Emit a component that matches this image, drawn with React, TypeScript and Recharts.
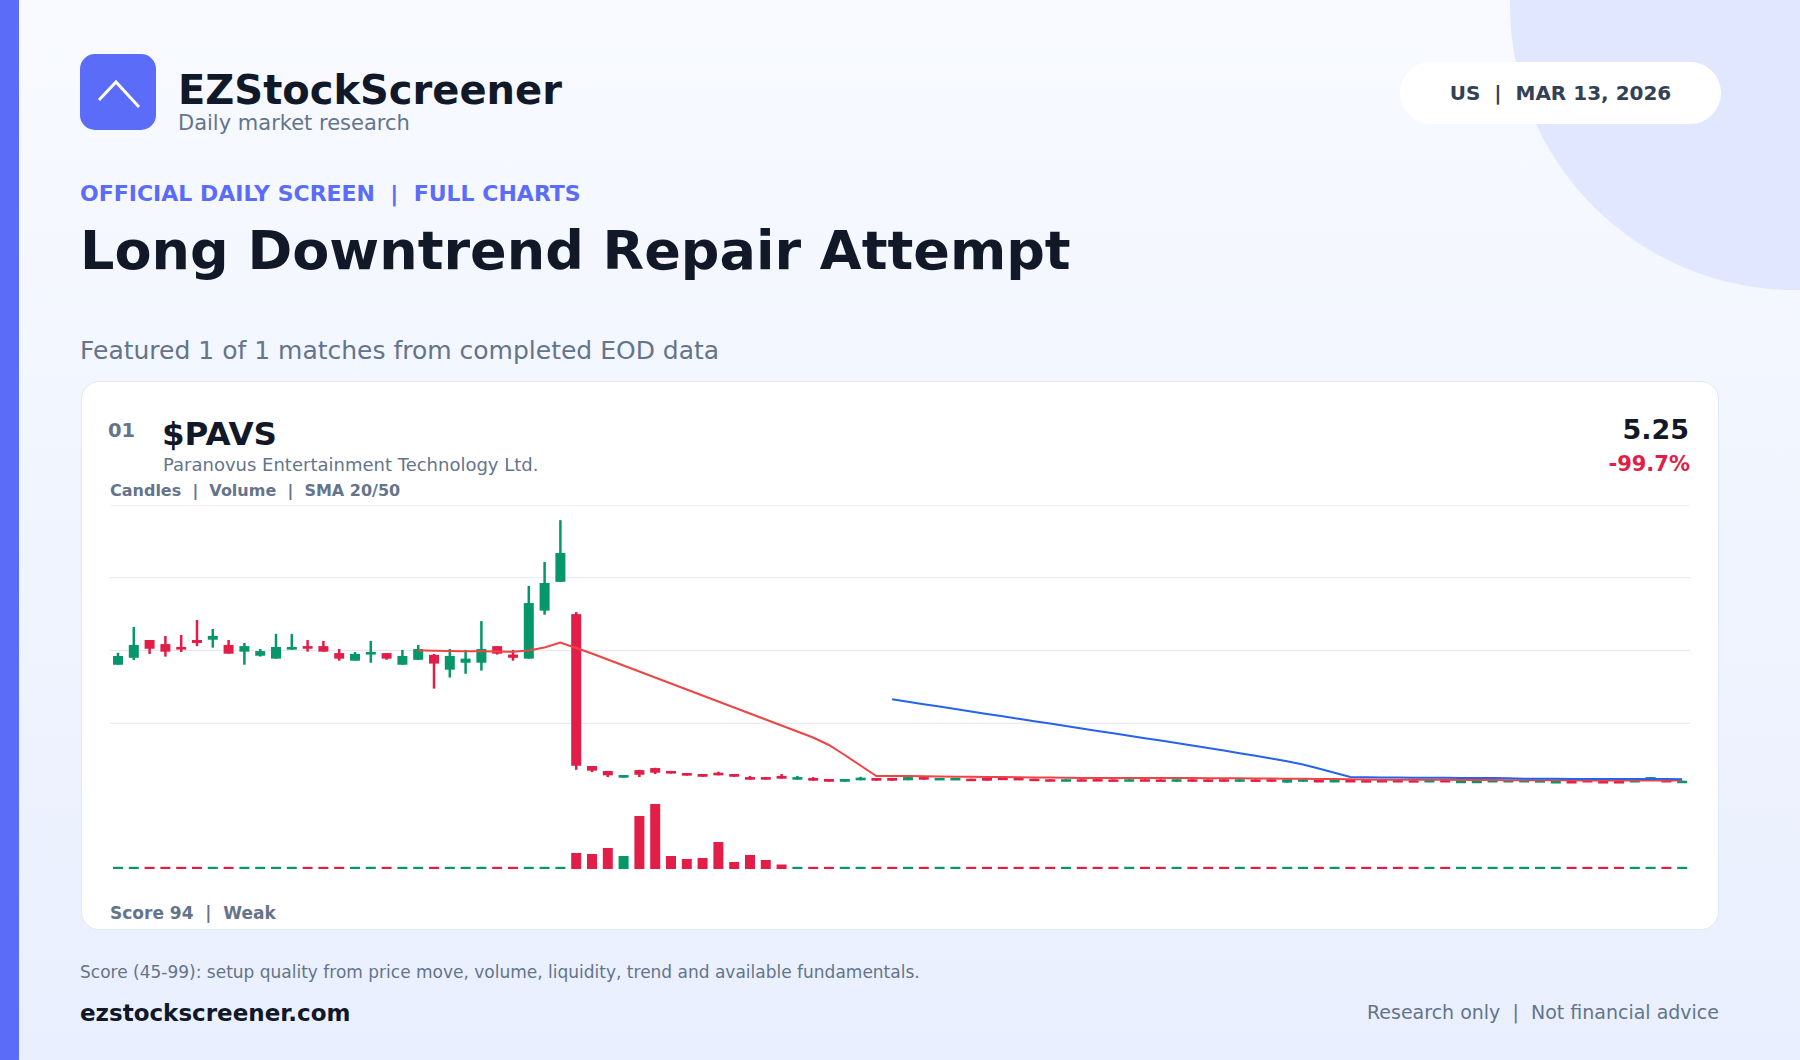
import React from "react";
import {
  ComposedChart,
  BarChart,
  Bar,
  Line,
  XAxis,
  YAxis,
  CartesianGrid,
  Cell,
} from "recharts";

const GREEN = "#059669";
const RED = "#e11d48";
const GREY = "#64748b";
const INK = "#111827";
const ACCENT = "#5b6cf9";

// daily candles, oldest first
const opens = [
  45.1, 47.5, 53.6, 52.2, 51.2, 53.6, 53.7, 51.9, 49.6, 48.2,
  47.2, 50.3, 51.5, 51.5, 49.1, 46.5, 48.6, 49.1, 45.1, 46.8,
  48.5, 43.4, 45.8, 45.8, 51.5, 48.6, 47.2, 63.7, 73.6, 62.5,
  10.3, 8.6, 6.3, 8.9, 9.6, 8.6, 7.9, 7.55, 8.0, 7.55,
  6.5, 6.5, 6.9, 5.6, 6.2, 5.85, 4.9, 5.4, 6.2, 6.2,
  5.4, 6.5, 5.6, 5.5, 5.95, 6.2, 6.3, 6.2, 5.95, 5.75,
  5.25, 5.75, 5.8, 5.7, 5.2, 5.75, 5.7, 4.9, 5.75, 5.7,
  5.75, 4.9, 5.7, 5.75, 4.6, 4.9, 5.5, 4.8, 5.5, 5.45,
  5.5, 5.5, 5.45, 4.8, 5.5, 4.5, 4.5, 4.8, 4.8, 4.85,
  4.8, 4.5, 5.15, 5.5, 5.15, 5.15, 4.8, 5.95, 5.5, 4.7,
];
const highs = [
  49.2, 58.1, 53.6, 55.0, 55.3, 60.5, 57.4, 53.6, 52.6, 50.5,
  55.7, 55.7, 53.6, 53.3, 50.5, 49.5, 53.3, 49.1, 50.2, 51.9,
  48.8, 50.5, 50.2, 60.1, 51.5, 50.2, 72.2, 80.4, 94.8, 63.2,
  10.3, 8.6, 7.2, 9.0, 9.7, 8.6, 7.9, 7.55, 8.35, 7.55,
  6.9, 6.5, 7.55, 6.9, 6.5, 5.85, 5.85, 6.6, 6.2, 6.2,
  6.5, 6.5, 6.2, 6.2, 5.95, 6.2, 6.3, 6.2, 5.95, 5.75,
  5.75, 5.75, 5.8, 5.7, 5.75, 5.75, 5.7, 5.75, 5.75, 5.7,
  5.75, 5.75, 5.7, 5.75, 5.75, 5.75, 5.5, 5.5, 5.5, 5.45,
  5.5, 5.5, 5.45, 5.5, 5.5, 5.25, 5.25, 5.5, 5.5, 5.5,
  5.45, 5.15, 5.15, 5.5, 5.15, 5.15, 5.5, 6.5, 5.5, 5.25,
];
const lows = [
  45.1, 46.7, 48.8, 47.9, 49.5, 51.5, 51.0, 48.9, 45.1, 47.9,
  47.2, 50.3, 49.6, 49.6, 46.5, 46.5, 45.8, 46.8, 45.1, 46.8,
  36.9, 40.7, 42.0, 43.1, 48.6, 46.5, 47.2, 62.3, 73.6, 9.0,
  8.2, 6.5, 6.3, 6.5, 7.55, 7.7, 7.0, 6.6, 7.1, 6.6,
  5.6, 5.6, 5.95, 5.6, 5.25, 4.9, 4.9, 5.4, 5.25, 5.25,
  5.4, 5.6, 5.6, 5.5, 5.5, 5.25, 5.9, 5.6, 5.25, 5.25,
  5.25, 5.25, 5.3, 5.25, 5.2, 5.25, 5.2, 4.9, 4.9, 4.9,
  4.95, 4.9, 4.9, 4.9, 4.6, 4.9, 4.8, 4.8, 4.8, 4.8,
  4.85, 4.8, 4.8, 4.8, 4.8, 4.5, 4.5, 4.8, 4.8, 4.85,
  4.8, 4.5, 4.5, 4.8, 4.5, 4.5, 4.8, 5.95, 4.8, 4.7,
];
const closes = [
  48.1, 51.9, 50.6, 49.6, 50.3, 52.6, 55.0, 48.9, 51.5, 49.8,
  51.2, 51.2, 50.6, 49.6, 47.2, 48.8, 49.5, 47.2, 48.1, 50.5,
  45.5, 48.1, 47.2, 50.5, 48.9, 47.5, 66.3, 73.2, 83.5, 10.4,
  8.7, 7.1, 7.2, 7.3, 8.0, 7.7, 7.0, 6.6, 7.1, 6.6,
  5.6, 5.6, 5.95, 6.5, 5.25, 4.9, 5.85, 6.3, 5.25, 5.25,
  6.5, 5.6, 6.2, 6.2, 5.5, 5.25, 5.9, 5.6, 5.25, 5.25,
  5.75, 5.25, 5.3, 5.25, 5.75, 5.25, 5.2, 5.75, 4.9, 4.9,
  4.95, 5.75, 4.9, 4.9, 5.75, 5.75, 4.8, 5.5, 4.8, 4.8,
  4.85, 4.8, 4.8, 5.5, 4.8, 5.25, 5.25, 5.5, 5.5, 5.5,
  5.45, 5.15, 4.5, 4.8, 4.5, 4.5, 5.5, 6.5, 4.8, 5.25,
];
// volume, millions
const volumes = [
  0.22, 0.22, 0.22, 0.22, 0.22, 0.22, 0.22, 0.22, 0.22, 0.22,
  0.22, 0.22, 0.22, 0.22, 0.22, 0.22, 0.22, 0.22, 0.22, 0.22,
  0.22, 0.22, 0.22, 0.22, 0.22, 0.22, 0.22, 0.22, 0.22, 1.6,
  1.5, 2.1, 1.3, 5.3, 6.5, 1.3, 1.0, 1.1, 2.7, 0.7,
  1.4, 0.9, 0.45, 0.22, 0.22, 0.22, 0.22, 0.22, 0.22, 0.22,
  0.22, 0.22, 0.22, 0.22, 0.22, 0.22, 0.22, 0.22, 0.22, 0.22,
  0.22, 0.22, 0.22, 0.22, 0.22, 0.22, 0.22, 0.22, 0.22, 0.22,
  0.22, 0.22, 0.22, 0.22, 0.22, 0.22, 0.22, 0.22, 0.22, 0.22,
  0.22, 0.22, 0.22, 0.22, 0.22, 0.22, 0.22, 0.22, 0.22, 0.22,
  0.22, 0.22, 0.22, 0.22, 0.22, 0.22, 0.22, 0.22, 0.22, 0.22,
];
const sma20 = [
  null, null, null, null, null, null, null, null, null, null,
  null, null, null, null, null, null, null, null, null, 50.07,
  49.9, 49.83, 49.76, 49.73, 49.66, 49.59, 50.0, 51.03, 52.75, 50.86,
  48.97, 46.91, 44.85, 42.78, 40.72, 38.66, 36.6, 34.54, 32.47, 30.41,
  28.35, 26.29, 24.23, 22.16, 20.1, 17.53, 14.09, 10.48, 6.87, 6.87,
  6.85, 6.8, 6.7, 6.63, 6.6, 6.53, 6.5, 6.46, 6.39, 6.32,
  6.25, 6.22, 6.19, 6.19, 6.18, 6.19, 6.17, 6.15, 6.15, 6.12,
  6.1, 6.1, 6.05, 6.0, 5.91, 5.9, 5.85, 5.8, 5.75, 5.7,
  5.6, 5.57, 5.57, 5.55, 5.55, 5.52, 5.5, 5.48, 5.45, 5.4,
  5.4, 5.38, 5.38, 5.36, 5.35, 5.33, 5.33, 5.35, 5.32, 5.3,
];
const sma50 = [
  null, null, null, null, null, null, null, null, null, null,
  null, null, null, null, null, null, null, null, null, null,
  null, null, null, null, null, null, null, null, null, null,
  null, null, null, null, null, null, null, null, null, null,
  null, null, null, null, null, null, null, null, null, 33.23,
  32.41, 31.55, 30.72, 29.86, 29.04, 28.21, 27.39, 26.53, 25.7, 24.88,
  24.05, 23.2, 22.37, 21.55, 20.69, 19.86, 19.04, 18.21, 17.35, 16.49,
  15.6, 14.71, 13.81, 12.92, 11.92, 10.82, 9.45, 7.97, 6.53, 6.46,
  6.35, 6.32, 6.3, 6.28, 6.25, 6.22, 6.2, 6.15, 6.1, 5.95,
  5.92, 5.9, 5.88, 5.87, 5.85, 5.83, 5.82, 5.82, 5.8, 5.78,
];
const priceTicks = [0, 25, 50, 75, 100];

const rows = opens.map((open, i) => ({
  day: i + 1,
  open,
  high: highs[i],
  low: lows[i],
  close: closes[i],
  range: [lows[i], highs[i]],
  volume: volumes[i],
  sma20: sma20[i],
  sma50: sma50[i],
  up: closes[i] >= open,
}));

function Candle(props: any) {
  const { x, y, width, height, payload } = props;
  const { open, close, high, low } = payload;
  const top = Math.min(y, y + height);
  const h = Math.abs(height);
  const toY = (v: number) => top + ((high - v) / (high - low)) * h;
  const color = close >= open ? GREEN : RED;
  const bodyTop = toY(Math.max(open, close));
  const bodyH = Math.max(2.5, toY(Math.min(open, close)) - bodyTop);
  const cx = x + width / 2;
  return (
    <g>
      <rect x={cx - 1.25} y={top} width={2.5} height={h} fill={color} />
      <rect x={x} y={bodyTop} width={width} height={bodyH} fill={color} />
    </g>
  );
}

function Txt({ x, base, size, bold, color, align, w, children }: any) {
  const style: any = {
    position: "absolute",
    top: base - 0.846 * size,
    fontSize: size,
    lineHeight: `${size}px`,
    fontWeight: bold ? 700 : 400,
    color,
    whiteSpace: "pre",
  };
  if (align === "right") {
    style.right = 1800 - x;
    style.textAlign = "right";
  } else if (align === "center") {
    style.left = x;
    style.width = w;
    style.textAlign = "center";
  } else {
    style.left = x;
  }
  return <div style={style}>{children}</div>;
}

export default function App() {
  return (
    <div
      style={{
        position: "absolute",
        left: 0,
        top: 0,
        width: 1800,
        height: 1060,
        overflow: "hidden",
        fontFamily: "'DejaVu Sans', sans-serif",
        background: "linear-gradient(180deg, #f8faff 0%, #e9effe 100%)",
      }}
    >
      <div
        style={{
          position: "absolute",
          left: 1510,
          top: -280,
          width: 570,
          height: 570,
          borderRadius: "50%",
          background: "#e0e7ff",
        }}
      />
      <div style={{ position: "absolute", left: 0, top: 0, width: 19, height: 1060, background: ACCENT }} />

      {/* header */}
      <div
        style={{
          position: "absolute",
          left: 80,
          top: 54,
          width: 76,
          height: 76,
          borderRadius: 15,
          background: ACCENT,
        }}
      >
        <svg width={76} height={76}>
          <polyline points="19,46 36,28 59,53" fill="none" stroke="#fff" strokeWidth={3} />
        </svg>
      </div>
      <Txt x={178} base={104} size={40} bold color={INK}>EZStockScreener</Txt>
      <Txt x={178} base={131} size={21} color={GREY}>Daily market research</Txt>

      <div
        style={{
          position: "absolute",
          left: 1400,
          top: 62,
          width: 321,
          height: 62,
          borderRadius: 31,
          background: "#ffffff",
        }}
      />
      <Txt x={1400} w={321} align="center" base={100} size={20} bold color="#334155">
        {"US  |  MAR 13, 2026"}
      </Txt>

      <Txt x={80} base={202} size={22} bold color={ACCENT}>
        {"OFFICIAL DAILY SCREEN  |  FULL CHARTS"}
      </Txt>
      <Txt x={80} base={270} size={54} bold color={INK}>Long Downtrend Repair Attempt</Txt>
      <Txt x={80} base={359} size={25} color={GREY}>Featured 1 of 1 matches from completed EOD data</Txt>

      {/* card */}
      <div
        style={{
          position: "absolute",
          left: 81,
          top: 381,
          width: 1638,
          height: 549,
          boxSizing: "border-box",
          borderRadius: 18,
          background: "#ffffff",
          border: "1px solid #e2e8f0",
        }}
      />
      <Txt x={108} base={437} size={19.5} bold color={GREY}>01</Txt>
      <Txt x={162} base={445} size={32.5} bold color={INK}>$PAVS</Txt>
      <Txt x={163} base={471} size={18} color={GREY}>Paranovus Entertainment Technology Ltd.</Txt>
      <Txt x={110} base={497} size={16} bold color={GREY}>
        {"Candles  |  Volume  |  SMA 20/50"}
      </Txt>
      <Txt x={1689} align="right" base={439} size={27} bold color={INK}>5.25</Txt>
      <Txt x={1690} align="right" base={472} size={21} bold color={RED}>-99.7%</Txt>

      <div style={{ position: "absolute", left: 110, top: 505 }}>
        <ComposedChart width={1580} height={291} data={rows} margin={{ top: 0, right: 0, bottom: 0, left: 0 }}>
          <CartesianGrid vertical={false} stroke="#e5e7eb" horizontalValues={priceTicks} />
          <XAxis dataKey="day" hide />
          <YAxis hide domain={[0, 100]} ticks={priceTicks} />
          <Bar dataKey="range" barSize={10} shape={Candle} isAnimationActive={false} />
          <Line dataKey="sma20" type="linear" stroke="#ef4444" strokeWidth={2} dot={false} isAnimationActive={false} />
          <Line dataKey="sma50" type="linear" stroke="#2563eb" strokeWidth={2} dot={false} isAnimationActive={false} />
        </ComposedChart>
      </div>

      <div style={{ position: "absolute", left: 110, top: 804 }}>
        <BarChart width={1580} height={65} data={rows} margin={{ top: 0, right: 0, bottom: 0, left: 0 }}>
          <XAxis dataKey="day" hide />
          <YAxis hide domain={[0, "dataMax"]} />
          <Bar dataKey="volume" barSize={10} isAnimationActive={false}>
            {rows.map((r) => (
              <Cell key={r.day} fill={r.up ? GREEN : RED} />
            ))}
          </Bar>
        </BarChart>
      </div>

      <Txt x={110} base={919} size={17} bold color={GREY}>{"Score 94  |  Weak"}</Txt>

      {/* footer */}
      <Txt x={80} base={978} size={17} color={GREY}>
        Score (45-99): setup quality from price move, volume, liquidity, trend and available fundamentals.
      </Txt>
      <Txt x={80} base={1021} size={23} bold color={INK}>ezstockscreener.com</Txt>
      <Txt x={1719} align="right" base={1019} size={19} color={GREY}>
        {"Research only  |  Not financial advice"}
      </Txt>
    </div>
  );
}
